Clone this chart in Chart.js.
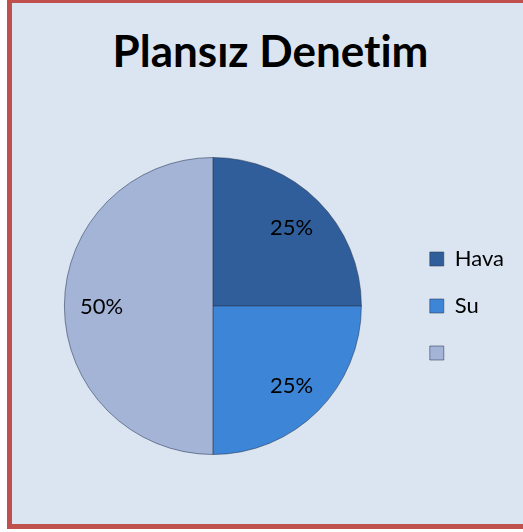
<!DOCTYPE html>
<html>
<head>
<meta charset="utf-8">
<script src="https://cdn.jsdelivr.net/npm/chart.js@4.4.1/dist/chart.umd.min.js"></script>
<style>
  html, body { margin: 0; padding: 0; background: #ffffff; overflow: hidden; }
  body { width: 523px; height: 532px; position: relative; }
  .frame {
    position: absolute; left: 7px; top: -2px; width: 530px; height: 531px;
    box-sizing: border-box; border: 5px solid #c0504d; background: #dbe5f1;
  }
  .title {
    position: absolute; left: 0; width: 541px; top: 28px;
    text-align: center; font: bold 44px Lato, sans-serif; line-height: 44px; color: #000;
    font-variant-ligatures: none;
  }
  #chart { position: absolute; left: 0; top: 0; }
</style>
</head>
<body>
<div class="frame"></div>
<div class="title">Plansız Denetim</div>
<canvas id="chart" width="523" height="532"></canvas>
<script>
// Chart data
const categories = ['Hava', 'Su', ''];
const shares = [25, 25, 50];
const sliceColors = ['#2f5e9b', '#3d85d6', '#a3b4d7'];

// Percentage labels inside the slices
const sliceLabels = {
  id: 'sliceLabels',
  afterDatasetsDraw(chart) {
    const ctx = chart.ctx;
    const meta = chart.getDatasetMeta(0);
    const total = shares.reduce((a, b) => a + b, 0);
    ctx.save();
    ctx.font = '22px Lato, sans-serif';
    ctx.fillStyle = '#000';
    ctx.textAlign = 'center';
    ctx.textBaseline = 'middle';
    meta.data.forEach((arc, i) => {
      const p = arc.getProps(['x', 'y', 'startAngle', 'endAngle', 'outerRadius'], true);
      const mid = (p.startAngle + p.endAngle) / 2;
      const r = p.outerRadius * 0.75;
      const pct = Math.round(shares[i] / total * 100) + '%';
      ctx.fillText(pct, p.x + Math.cos(mid) * r, p.y + Math.sin(mid) * r + 1);
    });
    ctx.restore();
  }
};

function initChart() {
  const ctx = document.getElementById('chart').getContext('2d');
  new Chart(ctx, {
    type: 'pie',
    data: {
      labels: categories,
      datasets: [{
        data: shares,
        backgroundColor: sliceColors,
        borderColor: 'rgba(40, 55, 85, 0.55)',
        borderWidth: 1
      }]
    },
    options: {
      responsive: false,
      animation: false,
      layout: { padding: { left: 21, right: 9, top: 157, bottom: 77 } },
      plugins: {
        tooltip: { enabled: false },
        legend: {
          position: 'right',
          labels: {
            boxWidth: 14,
            boxHeight: 14,
            padding: 25,
            color: '#000',
            font: { family: 'Lato', size: 22 }
          }
        }
      }
    },
    plugins: [sliceLabels]
  });
}

document.addEventListener('DOMContentLoaded', initChart);
</script>
</body>
</html>
